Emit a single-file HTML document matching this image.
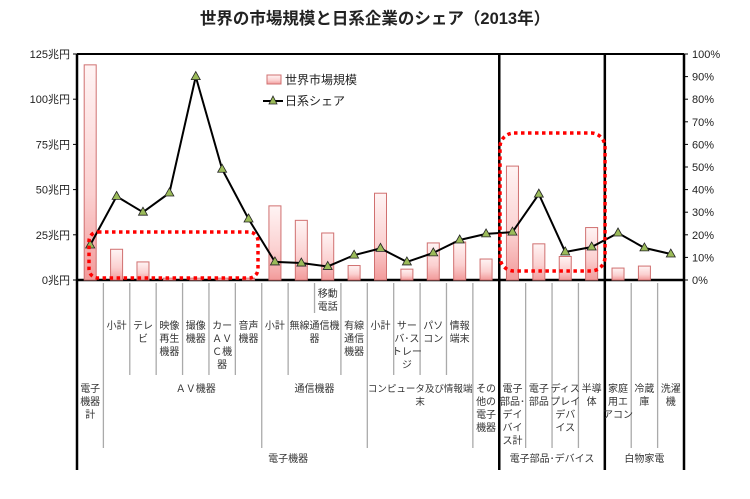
<!DOCTYPE html>
<html><head><meta charset="utf-8"><style>
body{margin:0;background:#fff;}
svg text{font-family:"Liberation Sans","Noto Sans CJK JP",sans-serif;}
</style></head><body>
<svg id="chart" width="750" height="494" viewBox="0 0 750 494" xmlns="http://www.w3.org/2000/svg">
<defs>
<linearGradient id="bg" x1="0" y1="0" x2="0" y2="1">
<stop offset="0" stop-color="#fff4f4"/><stop offset="0.6" stop-color="#fbd0d0"/><stop offset="1" stop-color="#f29a9a"/>
</linearGradient>
</defs>
<text x="375" y="24" text-anchor="middle" font-size="16.5" font-weight="bold" fill="#222">世界の市場規模と日系企業のシェア（2013年）</text>
<g id="axes"></g>
<g id="bars"></g>
<g id="line"></g>
<g id="labels" font-size="10" fill="#333"></g>
<rect x="89" y="232" width="169" height="46" rx="9" fill="none" stroke="#f00" stroke-width="3.5" stroke-dasharray="3.5,3.5"/>
<rect x="500" y="133" width="105" height="138" rx="14" fill="none" stroke="#f00" stroke-width="3.5" stroke-dasharray="3.5,3.5"/>
<g>
<rect x="267" y="75" width="14" height="9" fill="url(#bg)" stroke="#d07070"/>
<text x="285" y="84" font-size="12" fill="#222">世界市場規模</text>
<line x1="263" y1="101" x2="283" y2="101" stroke="#000" stroke-width="2"/>
<polygon points="273,96 277,104 269,104" fill="#9bbb59" stroke="#222" stroke-width="0.8"/>
<text x="285" y="105" font-size="12" fill="#222">日系シェア</text>
</g>
</svg>
<script>
const categories=["電子機器計","AV小計","テレビ","映像再生機器","撮像機器","カーAV機器","音声機器","通信小計","無線通信機器","移動電話","有線通信機器","コンピュータ小計","サーバ・ストレージ","パソコン","情報端末","その他の電子機器","電子部品・デバイス計","電子部品","ディスプレイデバイス","半導体","家庭用エアコン","冷蔵庫","洗濯機"];
const marketSize=[119,17,10,1,1,1,1,41,33,26,8,48,6,20.5,21,11.6,63,20,13,29,6.6,7.7,0];
const sharePct=[15.5,37,30,38.5,90,49,27,8,7.5,6,11,14,8,12,17.7,20.4,21.2,38,12.4,14.6,20.8,14.2,11.5];
const leftTicks=["0兆円","25兆円","50兆円","75兆円","100兆円","125兆円"];
const rightTicks=["0%","10%","20%","30%","40%","50%","60%","70%","80%","90%","100%"];

const NS="http://www.w3.org/2000/svg";
const X0=77,X1=684,Y0=280,Y1=54;
const cw=(X1-X0)/categories.length;
const yL=v=>Y0-(v/125)*(Y0-Y1);
const yR=v=>Y0-(v/100)*(Y0-Y1);
const xc=i=>X0+cw*(i+0.5);
function mk(tag,attrs,parent){const e=document.createElementNS(NS,tag);for(const k in attrs)e.setAttribute(k,attrs[k]);document.getElementById(parent).appendChild(e);return e;}

leftTicks.forEach((t,i)=>{const y=yL(i*25);
 const e=mk("text",{x:70,y:y+4,"text-anchor":"end","font-size":"11",fill:"#222"},"axes");e.textContent=t;
 
 
 mk("line",{x1:X0-4,y1:y,x2:X0,y2:y,stroke:"#000"},"axes");});
rightTicks.forEach((t,i)=>{const y=yR(i*10);
 const e=mk("text",{x:692,y:y+4,"font-size":"11",fill:"#222"},"axes");e.textContent=t;
 
 
 mk("line",{x1:X1,y1:y,x2:X1+4,y2:y,stroke:"#000"},"axes");});
mk("line",{x1:X0,y1:Y1,x2:X1,y2:Y1,stroke:"#000","stroke-width":2},"axes");
mk("line",{x1:X0,y1:Y0,x2:X1,y2:Y0,stroke:"#000","stroke-width":2.5},"axes");

const major=[0,16,20,23];
const grpDeep=[1,7,11,15,17,18,19,21,22];
for(let b=1;b<categories.length;b++){
 if(major.includes(b))continue;
 const x=X0+cw*b;
 let y2=grpDeep.includes(b)?448:375;
 let y1=283;
 if(b===9){y1=283;y2=313;}
 mk("line",{x1:x,y1:y1,x2:x,y2:y2,stroke:"#aaa","stroke-width":1.3},"axes");
}
major.forEach(b=>{const x=X0+cw*b;mk("line",{x1:x,y1:Y1,x2:x,y2:470,stroke:"#000","stroke-width":2.5},"axes");});

marketSize.forEach((v,i)=>{if(v<=0)return;const y=yL(v);
 const r=mk("rect",{x:xc(i)-6,y:y,width:12,height:Y0-y,fill:"url(#bg)",stroke:"#d07070","stroke-width":1},"bars");
 
 });

const pl=mk("polyline",{points:sharePct.map((v,i)=>xc(i)+","+yR(v)).join(" "),fill:"none",stroke:"#000","stroke-width":2},"line");


sharePct.forEach((v,i)=>{const x=xc(i),y=yR(v);
 const p=mk("polygon",{points:`${x},${y-5} ${x+4.5},${y+3} ${x-4.5},${y+3}`,fill:"#9bbb59",stroke:"#222","stroke-width":0.8},"line");
 
 });

const labs=[
 [9,297,["移動","電話"]],
 [1,329,["小計"]],[2,329,["テレ","ビ"]],[3,329,["映像","再生","機器"]],[4,329,["撮像","機器"]],
 [5,329,["カー","ＡＶ","Ｃ機","器"]],[6,329,["音声","機器"]],[7,329,["小計"]],[8.5,329,["無線通信機","器"]],
 [10,329,["有線","通信","機器"]],[11,329,["小計"]],[12,329,["サー","バ･ス","トレー","ジ"]],[13,329,["パソ","コン"]],[14,329,["情報","端末"]],
 [0,392,["電子","機器","計"]],[4,392,["ＡＶ機器"]],[8.5,392,["通信機器"]],
 [15,392,["その","他の","電子","機器"]],[16,392,["電子","部品･","デイ","バイ","ス計"]],[17,392,["電子","部品"]],
 [18,392,["ディス","プレイ","デバ","イス"]],[19,392,["半導","体"]],[20,392,["家庭","用エ","アコン"]],[21,392,["冷蔵","庫"]],[22,392,["洗濯","機"]],
 [7.5,462,["電子機器"]],[17.5,462,["電子部品･デバイス"]],[21,462,["白物家電"]]
];
labs.forEach(([c,y,lines],k)=>{
 const t=mk("text",{"text-anchor":"middle"},"labels");
 
 
 lines.forEach((s,j)=>{const ts=document.createElementNS(NS,"tspan");ts.setAttribute("x",xc(c));ts.setAttribute("y",y+j*13);ts.textContent=s;t.appendChild(ts);});
});
const ct=mk("text",{"text-anchor":"middle","font-size":"9.5"},"labels");


[["コンピュータ及び情報端",0],["末",13]].forEach(([s,dy])=>{const ts=document.createElementNS(NS,"tspan");ts.setAttribute("x",xc(12.5));ts.setAttribute("y",392+dy);ts.textContent=s;ct.appendChild(ts);});
</script>
</body></html>
